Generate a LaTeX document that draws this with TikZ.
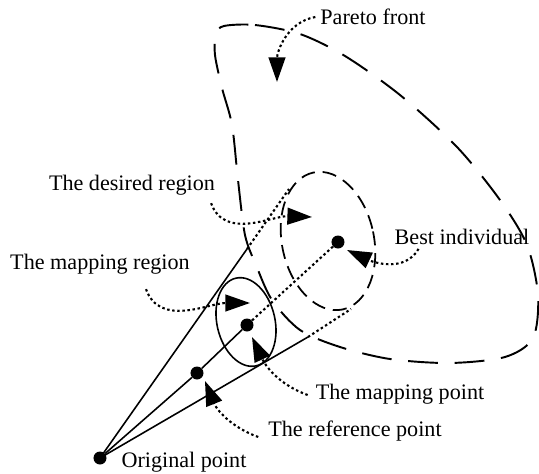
\documentclass[tikz,border=0pt]{standalone}
\usepackage{fontspec}
\setmainfont{Liberation Serif}
\usetikzlibrary{arrows.meta,calc,positioning}
\tikzset{
  dotpt/.style={circle, fill=black, minimum size=7.4pt, inner sep=0pt},
  lbl/.style={font=\fontsize{12.6}{14}\selectfont, inner sep=1pt},
  ray/.style={line width=0.9pt},
  raydot/.style={line width=1.2pt, dash pattern=on 1.4pt off 1.5pt},
  pointer/.style={line width=1.2pt, dash pattern=on 1.4pt off 1.5pt,
                  -{Triangle[length=14pt,width=9.5pt]}},
  frontline/.style={line width=1.1pt, dash pattern=on 17pt off 9.5pt},
  regionline/.style={line width=1pt, dash pattern=on 8pt off 4.5pt},
}

\begin{document}
\begin{tikzpicture}[x=0.02cm, y=-0.02cm]
\useasboundingbox (0,0) rectangle (539,474);
% Pareto front
\draw[frontline] plot[smooth cycle, tension=0.5] coordinates {
  (224,26) (255,25) (300,34) (345,56) (400,95) (457,147) (500,200)
  (527,245) (538,295) (533,338) (505,357) (450,363) (390,359) (340,347)
  (300,330) (272,300) (256,265) (245,235) (238,180) (232,125) (222,88) (215,55) (216,34)};
% regions
\draw[regionline, rotate around={12:(328,241)}] (328,241) ellipse [x radius=46, y radius=70];
\draw[ray, rotate around={13:(246,322)}] (246,322) ellipse [x radius=29, y radius=45];
% points
\node[dotpt] (orig) at (100,458) {};
\node[dotpt] (ref) at (197,373) {};
\node[dotpt] (map) at (247,325) {};
\node[dotpt] (best) at (338,242) {};
\coordinate (upend) at (247,249);
\coordinate (uptip) at (289,189);
\coordinate (lowend) at (308,337);
\coordinate (lowtip) at (351,309);
% cone
\draw[ray] (orig.center) -- (upend);
\draw[raydot] (upend) -- (uptip);
\draw[ray] (orig.center) -- (lowend);
\draw[raydot] (lowend) -- (lowtip);
\draw[ray] (orig) -- (ref) -- (map);
\draw[raydot] (map) -- (best);
% labels
\node[lbl] (paretolbl) at (373,17) {Pareto front};
\node[lbl] (desiredlbl) at (132,185) {The desired region};
\node[lbl] (mapreglbl) at (100,264) {The mapping region};
\node[lbl] (bestlbl) at (462,237) {Best individual};
\node[lbl] (mapptlbl) at (400,394) {The mapping point};
\node[lbl] (refptlbl) at (355,431) {The reference point};
\node[lbl] (origlbl) at (184,462) {Original point};
% pointers
\coordinate (pftip) at (277,82);
\coordinate (desiredtip) at (312,217);
\coordinate (mapregtip) at (250,303);
\coordinate (besttip) at (347,250);
\coordinate (mappttip) at (252,337);
\coordinate (refpttip) at (205,381);
\draw[pointer] ($(paretolbl.west)+(-3,0)$) to[out=190, in=90] (pftip);
\draw[pointer] ($(desiredlbl.south east)+(-6,6)$) to[out=-70, in=178] (desiredtip);
\draw[pointer] ($(mapreglbl.south)+(46,13)$) to[out=-70, in=180] (mapregtip);
\draw[pointer] ($(bestlbl.south west)+(26,2)$) to[out=-120, in=-25] (besttip);
\draw[pointer] ($(mapptlbl.west)+(-6,1)$) to[out=160, in=-65] (mappttip);
\draw[pointer] ($(refptlbl.west)+(-8,6)$) to[out=160, in=-68] (refpttip);
\end{tikzpicture}
\end{document}
